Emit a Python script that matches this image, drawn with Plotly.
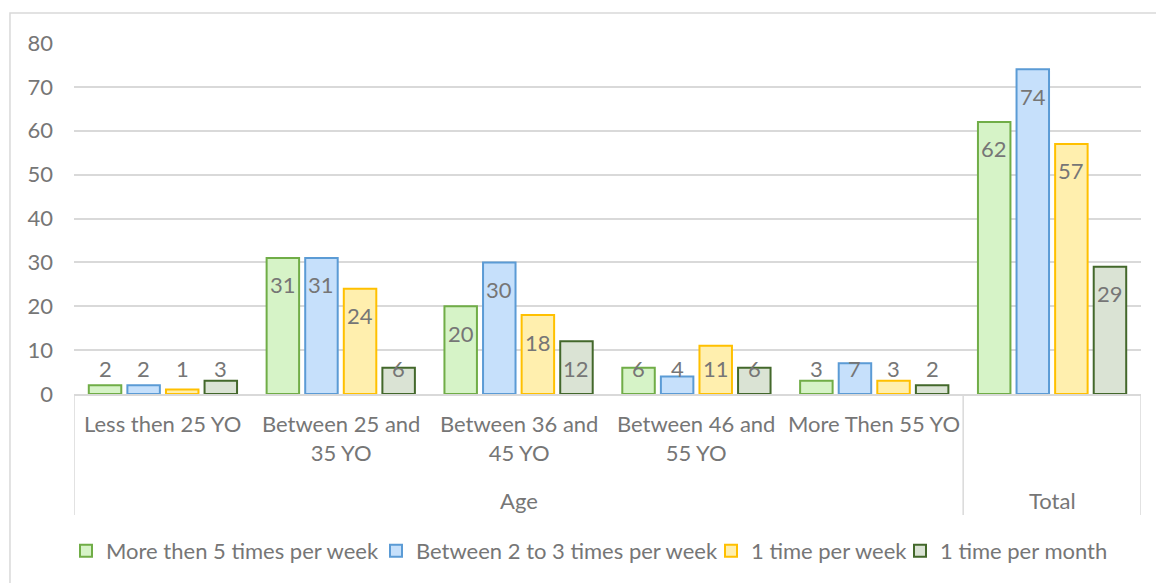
import plotly.graph_objects as go

# Category labels (first level) and their parent groups (second level)
age_groups = ["Less then 25 YO", "Between 25 and<br>35 YO", "Between 36 and<br>45 YO",
              "Between 46 and<br>55 YO", "More Then 55 YO", ""]
parent_labels = ["Age", "Total"]
parent_spans = [(0, 4), (5, 5)]

series_names = ["More then 5 times per week", "Between 2 to 3 times per week",
                "1 time per week", "1 time per month"]
more_than_5 = [2, 31, 20, 6, 3, 62]
two_to_three = [2, 31, 30, 4, 7, 74]
once_week = [1, 24, 18, 11, 3, 57]
once_month = [3, 6, 12, 6, 2, 29]
series_values = [more_than_5, two_to_three, once_week, once_month]

fills = ["#D6F3C7", "#C6E0FB", "#FFEFAE", "#DAE3D4"]
borders = ["#70AD47", "#5B9BD5", "#FFC000", "#43682B"]

FONT = "Lato"
TEXT = "#767676"
GRID = "#D9D9D9"
BARGAP = 0.132
GROUPGAP = 0.158

# plot area geometry in pixels (used to place the legend entries)
W, H = 1156, 583
ML, MR, MT, MB = 74, 15, 43, 189
PW, PH = W - ML - MR, H - MT - MB
legend_symbol_px = [86, 396, 731, 920]
legend_y_px = 551

x_pos = list(range(len(age_groups)))
legend_ids = ["legend", "legend2", "legend3", "legend4"]

fig = go.Figure()
for name, vals, fc, lc, lg in zip(series_names, series_values, fills, borders, legend_ids):
    fig.add_trace(go.Bar(
        x=x_pos, y=vals, name=name, legend=lg,
        marker=dict(color=fc, line=dict(color=lc, width=2)),
        hoverinfo="x+y+name",
    ))

annotations = []
# value labels near the top end of each bar
n = len(series_values)
slot = (1 - BARGAP) / n
for k, vals in enumerate(series_values):
    off = -(1 - BARGAP) / 2 + slot * (k + 0.5)
    for i, v in enumerate(vals):
        annotations.append(dict(
            x=x_pos[i] + off, y=max(v, 12), xref="x", yref="y",
            text=str(v), showarrow=False, yanchor="middle", yshift=-27,
            font=dict(family=FONT, size=22, color=TEXT),
        ))

# first-level category labels
for i, lab in enumerate(age_groups):
    if lab:
        annotations.append(dict(
            x=x_pos[i], y=0, xref="x", yref="paper", text=lab, showarrow=False,
            yanchor="top", yshift=-14, font=dict(family=FONT, size=22, color=TEXT),
        ))

# second-level group labels
for lab, (a, b) in zip(parent_labels, parent_spans):
    annotations.append(dict(
        x=(x_pos[a] + x_pos[b]) / 2, y=0, xref="x", yref="paper", text=lab,
        showarrow=False, yanchor="middle", yshift=-106,
        font=dict(family=FONT, size=22, color=TEXT),
    ))

shapes = []
# group divider lines below the axis
for xv in [-0.5, 4.5, 5.5]:
    shapes.append(dict(type="line", xref="x", yref="paper", x0=xv, x1=xv,
                       y0=0, y1=-0.345, line=dict(color=GRID, width=1.5)))
# chart frame
shapes.append(dict(type="rect", xref="paper", yref="paper", x0=-0.06, x1=1.3,
                   y0=-0.8, y1=1.0855, line=dict(color=GRID, width=1.5),
                   fillcolor="rgba(0,0,0,0)", layer="below"))

legend_layout = {}
for lg, sx in zip(legend_ids, legend_symbol_px):
    legend_layout[lg] = dict(
        orientation="h", x=(sx - 20 - ML) / PW, xanchor="left",
        y=(MT + PH - legend_y_px) / PH, yanchor="middle",
        font=dict(family=FONT, size=22, color=TEXT),
        bgcolor="rgba(0,0,0,0)", borderwidth=0,
    )

fig.update_layout(
    width=W, height=H,
    margin=dict(l=ML, r=MR, t=MT, b=MB, autoexpand=False),
    paper_bgcolor="white", plot_bgcolor="white",
    barmode="group", bargap=BARGAP, bargroupgap=GROUPGAP,
    font=dict(family=FONT, size=22, color=TEXT),
    showlegend=True,
    xaxis=dict(range=[-0.5, 5.5], showticklabels=False, showgrid=False, zeroline=False,
               showline=True, linecolor=GRID, linewidth=1.5, ticks=""),
    yaxis=dict(range=[0, 80], dtick=10, showgrid=True, gridcolor=GRID, gridwidth=1.5,
               zeroline=False, showline=False, ticks="", ticklabelstandoff=20,
               tickfont=dict(family=FONT, size=22, color=TEXT)),
    annotations=annotations, shapes=shapes,
    **legend_layout,
)

fig.write_html("out.html")
